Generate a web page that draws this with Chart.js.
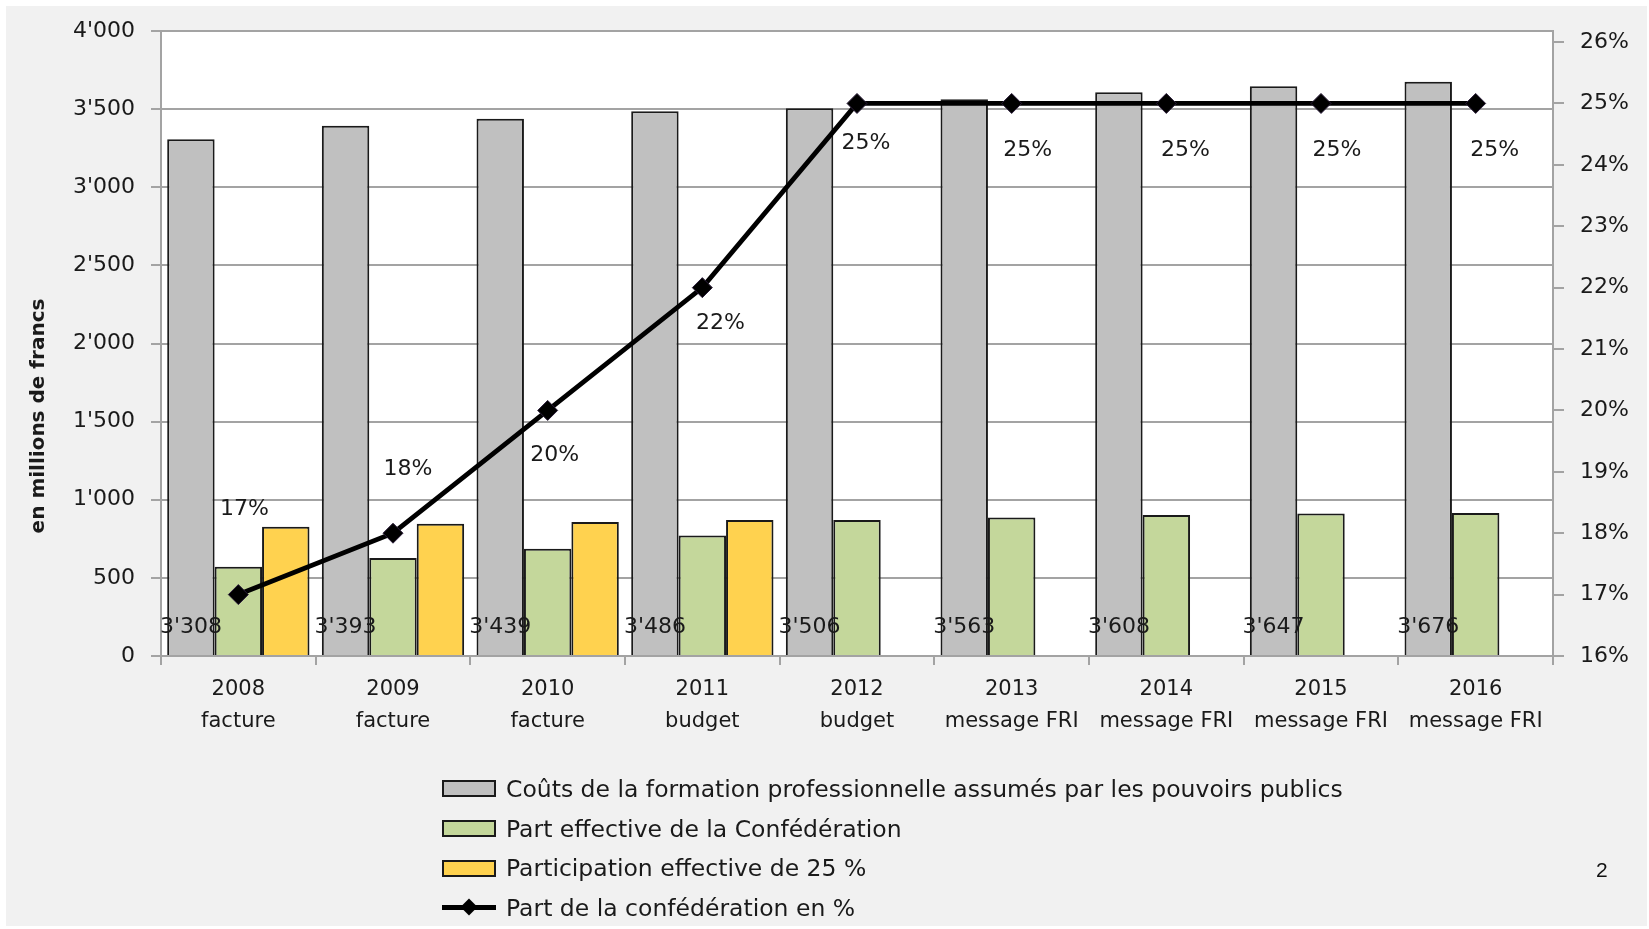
<!DOCTYPE html>
<html><head><meta charset="utf-8">
<script src="https://cdn.jsdelivr.net/npm/chart.js@4/dist/chart.umd.min.js"></script>
<style>
html,body{margin:0;padding:0;background:#fff;}
#wrap{position:absolute;left:0;top:0;width:1649px;height:929px;overflow:hidden;}
#bg{position:absolute;left:6px;top:6px;width:1641px;height:920px;background:#f1f1f1;}
#c{position:absolute;left:0;top:0;}
#legend{position:absolute;left:442px;top:769px;font-family:"DejaVu Sans";font-size:23.5px;color:#1a1a1a;}
.item{display:flex;align-items:center;height:39.7px;white-space:nowrap;}
.sym{position:relative;width:54px;height:17px;margin-right:10px;box-sizing:border-box;}
.box{border:2px solid #1a1a1a;}
.ln{position:absolute;left:0;top:6px;width:54px;height:5px;background:#000;}
.dm{position:absolute;left:21px;top:2px;width:12px;height:12px;background:#000;transform:rotate(45deg);}
#page{position:absolute;left:1596px;top:858px;font-family:"Liberation Sans";font-size:21px;color:#111;}
</style></head>
<body>
<div id="wrap">
<div id="bg"></div>
<canvas id="c" width="1649" height="929"></canvas>
<div id="legend"></div>
<div id="page">2</div>
</div>
<script>
// ---- data ----
const years = ['2008','2009','2010','2011','2012','2013','2014','2015','2016'];
const sources = ['facture','facture','facture','budget','budget','message FRI','message FRI','message FRI','message FRI'];
const costs = [3308, 3393, 3439, 3486, 3506, 3563, 3608, 3647, 3676];
const fedShare = [572, 628, 686, 772, 870, 886, 902, 912, 916];
const share25 = [827, 846, 858, 870, null, null, null, null, null];
const sharePct = [17, 18, 20, 22, 25, 25, 25, 25, 25];
const leftTicks = [0, 500, 1000, 1500, 2000, 2500, 3000, 3500, 4000];
const rightTicks = [16, 17, 18, 19, 20, 21, 22, 23, 24, 25, 26];
const seriesNames = [
  'Coûts de la formation professionnelle assumés par les pouvoirs publics',
  'Part effective de la Confédération',
  'Participation effective de 25 %',
  'Part de la confédération en %'
];
// label offsets (style only)
const pctLabelOffsets = [[6,-85],[15,-64],[7,45],[18,36],[9,40],[16,47],[19,47],[16,47],[19,47]];

const fmt = v => String(v).replace(/\B(?=(\d{3})+(?!\d))/g, "'");
const FONT = '"DejaVu Sans"';
const FAM = 'DejaVu Sans';
const FS = 22;
const TXT = '#1a1a1a';
const GRID = '#a3a3a3';

const labelPlugin = {
  id: 'customLabels',
  beforeDraw(chart){
    const a = chart.chartArea, ctx = chart.ctx;
    ctx.save(); ctx.fillStyle = '#ffffff';
    ctx.fillRect(a.left, a.top, a.right - a.left, a.bottom - a.top);
    ctx.restore();
  },
  afterDatasetsDraw(chart){
    const ctx = chart.ctx, ys = chart.scales.y;
    ctx.save();
    ctx.font = FS + 'px ' + FONT;
    ctx.fillStyle = TXT;
    ctx.textAlign = 'center'; ctx.textBaseline = 'middle';
    chart.getDatasetMeta(0).data.forEach((bar, i) => {
      ctx.fillText(fmt(costs[i]), bar.x, ys.getPixelForValue(0) - 29);
    });
    chart.getDatasetMeta(3).data.forEach((pt, i) => {
      ctx.fillText(sharePct[i] + '%', pt.x + pctLabelOffsets[i][0], pt.y + pctLabelOffsets[i][1]);
    });
    ctx.translate(39, 416);
    ctx.rotate(-Math.PI/2);
    ctx.font = 'bold 20px ' + FONT;
    ctx.fillText('en millions de francs', 0, 0);
    ctx.restore();
  }
};

const chart = new Chart(document.getElementById('c'), {
  data: {
    labels: years.map((y, i) => [y, sources[i]]),
    datasets: [
      {type:'bar', label: seriesNames[0], data: costs, backgroundColor:'#c0c0c0', borderColor:'#1a1a1a', borderWidth:2, yAxisID:'y', order:1},
      {type:'bar', label: seriesNames[1], data: fedShare, backgroundColor:'#c4d79b', borderColor:'#1a1a1a', borderWidth:2, yAxisID:'y', order:1},
      {type:'bar', label: seriesNames[2], data: share25, backgroundColor:'#ffd24f', borderColor:'#1a1a1a', borderWidth:2, yAxisID:'y', order:1},
      {type:'line', label: seriesNames[3], data: sharePct, borderColor:'#000', borderWidth:4.8, pointStyle:'rectRot', pointRadius:10, pointBackgroundColor:'#000', pointBorderColor:'#2b1d3a', pointBorderWidth:1, yAxisID:'y2', order:0, tension:0}
    ]
  },
  options: {
    responsive:false, animation:false,
    layout:{padding:{top:31,left:0,right:0,bottom:0}},
    plugins:{legend:{display:false}, tooltip:{enabled:false}},
    datasets:{bar:{categoryPercentage:0.92, barPercentage:1}},
    scales:{
      x:{
        offset:true,
        grid:{offset:true, drawOnChartArea:false, color:GRID, lineWidth:2, tickLength:9},
        border:{color:GRID, width:2},
        ticks:{font:{family:FAM, size:21, lineHeight:1.55}, color:TXT, padding:8, maxRotation:0, autoSkip:false},
        afterFit(s){ s.height = 273; }
      },
      y:{
        position:'left', min:0, max:4000,
        afterBuildTicks(s){ s.ticks = leftTicks.map(v => ({value:v})); },
        grid:{color:GRID, lineWidth:2, tickLength:10},
        border:{color:GRID, width:2},
        ticks:{font:{family:FAM, size:FS}, color:TXT, padding:16, callback:v => fmt(v)},
        afterFit(s){ s.width = 161; }
      },
      y2:{
        position:'right', min:16, max:26.18,
        afterBuildTicks(s){ s.ticks = rightTicks.map(v => ({value:v})); },
        grid:{drawOnChartArea:false, color:GRID, lineWidth:2, tickLength:11},
        border:{color:GRID, width:2},
        ticks:{font:{family:FAM, size:FS}, color:TXT, padding:16, callback:v => v + '%'},
        afterFit(s){ s.width = 96; }
      }
    }
  },
  plugins:[labelPlugin]
});

// legend built from the chart's datasets
const leg = document.getElementById('legend');
chart.data.datasets.forEach(ds => {
  const it = document.createElement('div'); it.className = 'item';
  const sym = document.createElement('div'); sym.className = 'sym';
  if (ds.type === 'bar') { sym.classList.add('box'); sym.style.background = ds.backgroundColor; }
  else { sym.innerHTML = '<div class="ln"></div><div class="dm"></div>'; }
  const t = document.createElement('span'); t.textContent = ds.label;
  it.appendChild(sym); it.appendChild(t); leg.appendChild(it);
});
</script>
</body></html>
